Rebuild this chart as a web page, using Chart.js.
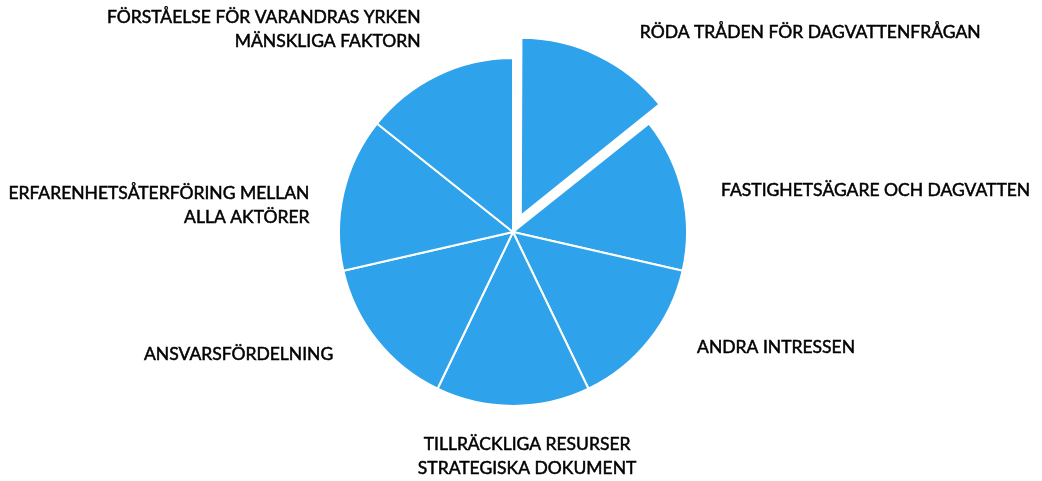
<!DOCTYPE html>
<html>
<head>
<meta charset="utf-8">
<script src="https://cdn.jsdelivr.net/npm/chart.js@4.4.0/dist/chart.umd.min.js"></script>
<style>
  html, body { margin: 0; padding: 0; background: #ffffff; }
  #wrap { width: 1042px; height: 481px; position: relative; }
</style>
</head>
<body>
<div id="wrap"><canvas id="pie"></canvas></div>
<script>
// Kategorier (en rad per textrad)
const categories = [
    ['RÖDA TRÅDEN FÖR DAGVATTENFRÅGAN'],
    ['FASTIGHETSÄGARE OCH DAGVATTEN'],
    ['ANDRA INTRESSEN'],
    ['TILLRÄCKLIGA RESURSER', 'STRATEGISKA DOKUMENT'],
    ['ANSVARSFÖRDELNING'],
    ['ERFARENHETSÅTERFÖRING MELLAN', 'ALLA AKTÖRER'],
    ['FÖRSTÅELSE FÖR VARANDRAS YRKEN', 'MÄNSKLIGA FAKTORN']
];
// Andelar (lika stora)
const values = [1, 1, 1, 1, 1, 1, 1];
// Utskjuten sektor (Chart.js v4 flyttar ca 0.3 x offset)
const exploded = [72, 0, 0, 0, 0, 0, 0];

// Placering av etiketter: vinkeljustering (grader), avstånd (x radie), justering
const labelLayout = [
    { nudge: 6.7,  dist: 1.36, align: 'left' },
    { nudge: 1.5,  dist: 1.22, align: 'left' },
    { nudge: -6.4, dist: 1.25, align: 'left' },
    { nudge: -3.6, dist: 1.29, align: 'center' },
    { nudge: 4.3,  dist: 1.25, align: 'right' },
    { nudge: -5.3, dist: 1.18, align: 'right' },
    { nudge: 1.2,  dist: 1.28, align: 'right' }
];

const FONT = '17.5px Lato';
const LINE_H = 24;

// Plugin som ritar etiketterna utanför cirkeln
const outsideLabels = {
    id: 'outsideLabels',
    afterDatasetsDraw(chart) {
        const ctx = chart.ctx;
        const meta = chart.getDatasetMeta(0);
        ctx.save();
        ctx.font = FONT;
        ctx.fillStyle = '#000000';
        ctx.strokeStyle = '#000000';
        ctx.lineWidth = 0.5;
        ctx.textBaseline = 'middle';
        meta.data.forEach((arc, i) => {
            const p = arc.getProps(['x', 'y', 'startAngle', 'endAngle', 'outerRadius'], true);
            const lay = labelLayout[i];
            const mid = (p.startAngle + p.endAngle) / 2 + lay.nudge * Math.PI / 180;
            const r = p.outerRadius * lay.dist;
            const ax = p.x + Math.cos(mid) * r;
            const ay = p.y + Math.sin(mid) * r;
            const lines = categories[i];
            ctx.textAlign = lay.align;
            const top = ay - (lines.length - 1) * LINE_H / 2;
            lines.forEach((line, j) => {
                ctx.fillText(line, ax, top + j * LINE_H);
                ctx.strokeText(line, ax, top + j * LINE_H);
            });
        });
        ctx.restore();
    }
};

const ctx = document.getElementById('pie').getContext('2d');
const chart = new Chart(ctx, {
    type: 'pie',
    data: {
        labels: categories.map(c => c.join(' ')),
        datasets: [{
            data: values,
            backgroundColor: '#2ea3ec',
            borderColor: '#ffffff',
            borderWidth: 2,
            offset: exploded
        }]
    },
    options: {
        responsive: true,
        maintainAspectRatio: false,
        animation: false,
        radius: 174,
        layout: { padding: { left: 0, right: 16, top: 0, bottom: 17 } },
        plugins: {
            legend: { display: false },
            tooltip: { enabled: false }
        }
    },
    plugins: [outsideLabels]
});
</script>
</body>
</html>
